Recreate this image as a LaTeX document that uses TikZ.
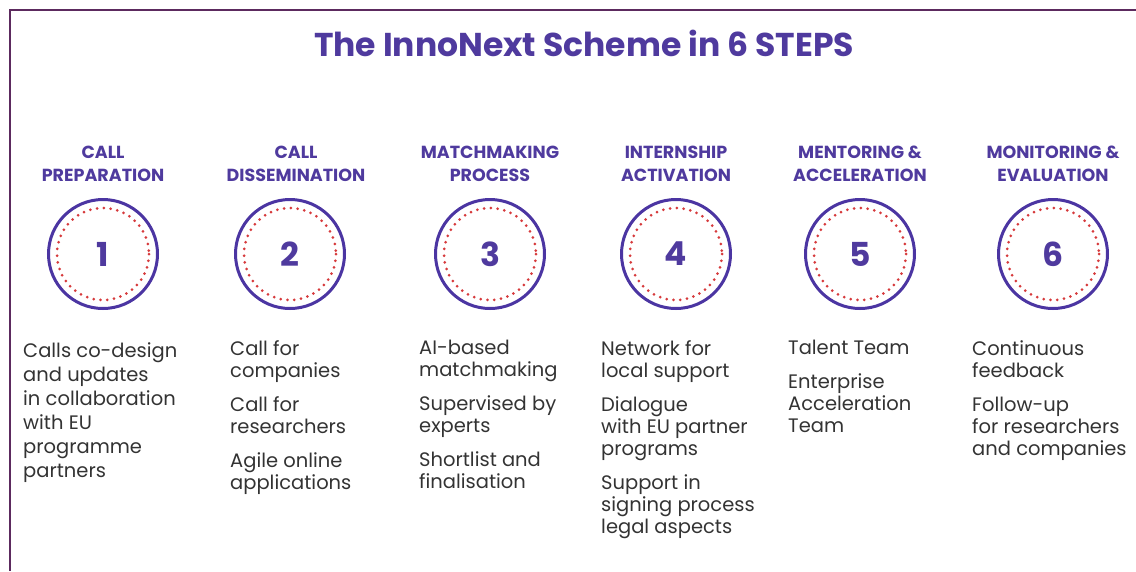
\documentclass[tikz,border=0pt]{standalone}
\usepackage{fontspec}
\setmainfont{Poppins}
\definecolor{frame}{HTML}{5C2A5E}
\definecolor{ttl}{HTML}{4F3A9E}
\definecolor{ring}{HTML}{4B35A2}
\definecolor{dots}{HTML}{D63A3C}
\definecolor{body}{HTML}{333333}
\begin{document}
\begin{tikzpicture}[x=1pt,y=-1pt,
  hdr/.style={font=\bfseries\fontsize{17.5}{23.5}\selectfont,text=ttl,align=center,inner sep=0pt},
  ringnode/.style={circle,draw=ring,line width=3pt,minimum size=109pt,inner sep=0pt,
     text=ttl,font=\bfseries\fontsize{33}{33}\selectfont},
  dotring/.style={draw=dots,line width=3pt,dash pattern=on 0pt off 6.8pt,line cap=round},
  txt/.style={font=\fontsize{19.5}{22}\selectfont,text=body,align=left,inner sep=0pt,anchor=north west}]
\useasboundingbox (0,0) rectangle (1136,571);
\draw[frame,line width=2pt] (9.5,571) -- (9.5,9.5) -- (1136,9.5);
\node[font=\bfseries\fontsize{33}{33}\selectfont,text=ttl] (title) at (584,43) {The InnoNext Scheme in 6 STEPS};
% headers
\node[hdr] (h1) at (103,164) {CALL\\PREPARATION};
\node[hdr] (h2) at (296,164) {CALL\\DISSEMINATION};
\node[hdr] (h3) at (490,164) {MATCHMAKING\\PROCESS};
\node[hdr] (h4) at (676,164) {INTERNSHIP\\ACTIVATION};
\node[hdr] (h5) at (860,164) {MENTORING \&\\ACCELERATION};
\node[hdr] (h6) at (1053,164) {MONITORING \&\\EVALUATION};
% rings
\foreach \i/\x in {1/103,2/290,3/490,4/676,5/860,6/1053}{
  \node[ringnode] (c\i) at (\x,254) {\i};
  \draw[dotring] (c\i.center) circle (46);
}
% texts
\node[txt,font=\fontsize{19.5}{24}\selectfont] (t1) at (23,342) {Calls co-design\\and updates\\in collaboration\\with EU\\programme\\partners};
\node[txt] (t2) at (230,340) {Call for\\companies\\[12pt]Call for\\researchers\\[12pt]Agile online\\applications};
\node[txt] (t3) at (419,340) {AI-based\\matchmaking\\[12pt]Supervised by\\experts\\[12pt]Shortlist and\\finalisation};
\node[txt] (t4) at (601,340) {Network for\\local support\\[12pt]Dialogue\\with EU partner\\programs\\[12pt]Support in\\signing process\\legal aspects};
\node[txt] (t5) at (788,340) {Talent Team\\[12pt]Enterprise\\Acceleration\\Team};
\node[txt] (t6) at (972,340) {Continuous\\feedback\\[12pt]Follow-up\\for researchers\\and companies};
\end{tikzpicture}
\end{document}
